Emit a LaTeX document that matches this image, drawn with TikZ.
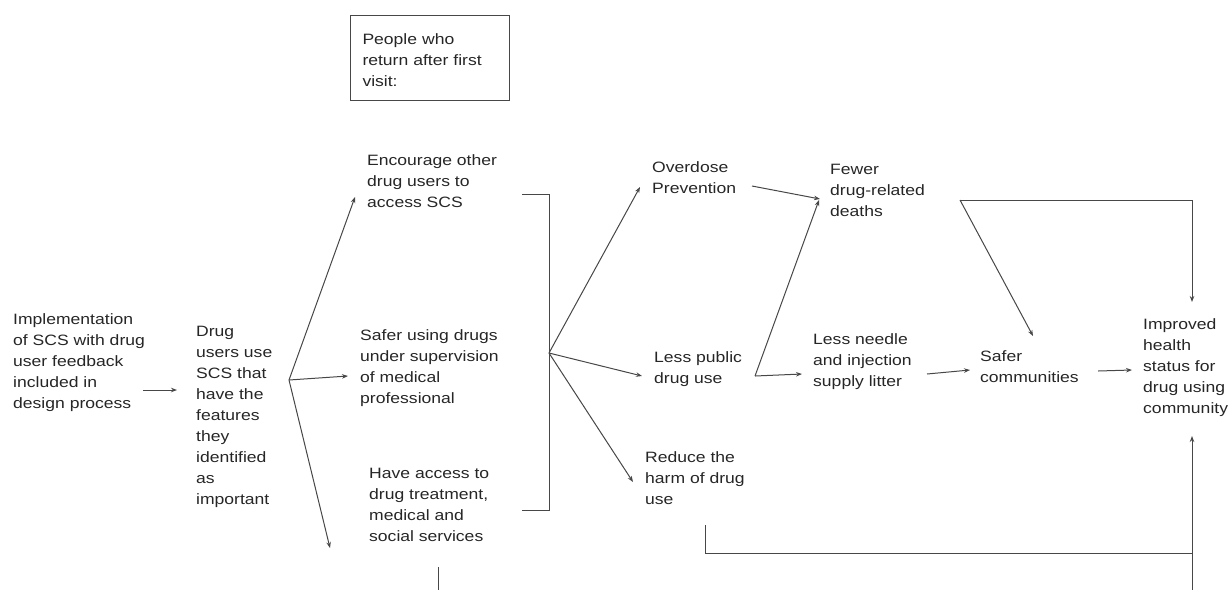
\documentclass[tikz,border=0pt]{standalone}
\usepackage{fontspec}
\setmainfont[FakeStretch=1.17]{Liberation Sans}
\usetikzlibrary{arrows.meta,calc}

\tikzset{
  lbl/.style={anchor=north west, inner sep=0pt, align=left, text=black!85,
    font=\fontsize{15}{21}\selectfont, execute at begin node=\strut},
  ln/.style={draw=black!72, line width=1pt},
  arr/.style={ln, -{Stealth[length=6pt,width=4.5pt]}}
}

\begin{document}
\begin{tikzpicture}[x=1pt,y=1pt,yscale=-1,xscale=1]
\useasboundingbox (0,0) rectangle (1230,590);

% Text Nodes
\node[lbl] (impl) at (13,313) {Implementation\\of SCS with drug\\user feedback\\included in\\design process};
\node[lbl] (users) at (196,326) {Drug\\users use\\SCS that\\have the\\features\\they\\identified\\as\\important};
\node[lbl, draw=black!72, line width=1pt, text width=135, minimum height=85, inner xsep=12, execute at begin node={}] (people) at (350,15) {People who\\return after first\\visit:};
\node[lbl] (encourage) at (367,154) {Encourage other\\drug users to\\access SCS};
\node[lbl] (safer) at (360,329) {Safer using drugs\\under supervision\\of medical\\professional};
\node[lbl] (access) at (369,468) {Have access to\\drug treatment,\\medical and\\social services};
\node[lbl] (overdose) at (652,161) {Overdose\\Prevention};
\node[lbl] (public) at (654,351) {Less public\\drug use};
\node[lbl] (reduce) at (645,451) {Reduce the\\harm of drug\\use};
\node[lbl] (fewer) at (830,164) {Fewer\\drug-related\\deaths};
\node[lbl] (needle) at (813,333) {Less needle\\and injection\\supply litter};
\node[lbl] (safercom) at (980,350) {Safer\\communities};
\node[lbl] (improved) at (1143,318) {Improved\\health\\status for\\drug using\\community};

% Junctions
\coordinate (hubA) at ($(users.north west)+(93,54)$);
\coordinate (hubB) at ($(safer.north west)+(189,24)$);
\coordinate (brtop) at ($(encourage.north west)+(155,40)$);
\coordinate (brbot) at ($(access.north west)+(153,42)$);
\coordinate (split) at ($(public.north west)+(101,25)$);
\coordinate (fork) at ($(fewer.north west)+(130,36)$);
\coordinate (merge) at ($(improved.north west)+(49,235)$);

% Connectors
\draw[arr] ($(impl.north west)+(130,77)$) -- ($(users.north west)+(-19,64)$);
\draw[arr] (hubA) -- ($(encourage.north west)+(-12,43)$);
\draw[arr] (hubA) -- ($(safer.north west)+(-12,47)$);
\draw[arr] (hubA) -- ($(access.north west)+(-39,80)$);
\draw[ln] (brtop) -- (brtop -| hubB) -- (brbot -| hubB) -- (brbot);
\draw[ln] ($(access.north west)+(69,99)$) -- ($(access.north west)+(69,122)$);
\draw[arr] (hubB) -- ($(overdose.north west)+(-12,26)$);
\draw[arr] (hubB) -- ($(public.north west)+(-12,25)$);
\draw[arr] (hubB) -- ($(reduce.north west)+(-12,31)$);
\draw[arr] ($(overdose.north west)+(100,25)$) -- ($(fewer.north west)+(-10,35)$);
\draw[arr] (split) -- ($(fewer.north west)+(-11,36)$);
\draw[arr] (split) -- ($(needle.north west)+(-11,41)$);
\draw[arr] (fork) -| ($(improved.north west)+(49,-16)$);
\draw[arr] (fork) -- ($(safercom.north west)+(53,-14)$);
\draw[arr] ($(needle.north west)+(114,41)$) -- ($(safercom.north west)+(-10,20)$);
\draw[arr] ($(safercom.north west)+(118,21)$) -- ($(improved.north west)+(-11,52)$);
\draw[ln] ($(reduce.north west)+(60,74)$) |- (merge);
\draw[arr] (merge) -- ($(improved.north west)+(49,118)$);
\draw[ln] (merge) -- ($(improved.north west)+(49,272)$);

\end{tikzpicture}
\end{document}
